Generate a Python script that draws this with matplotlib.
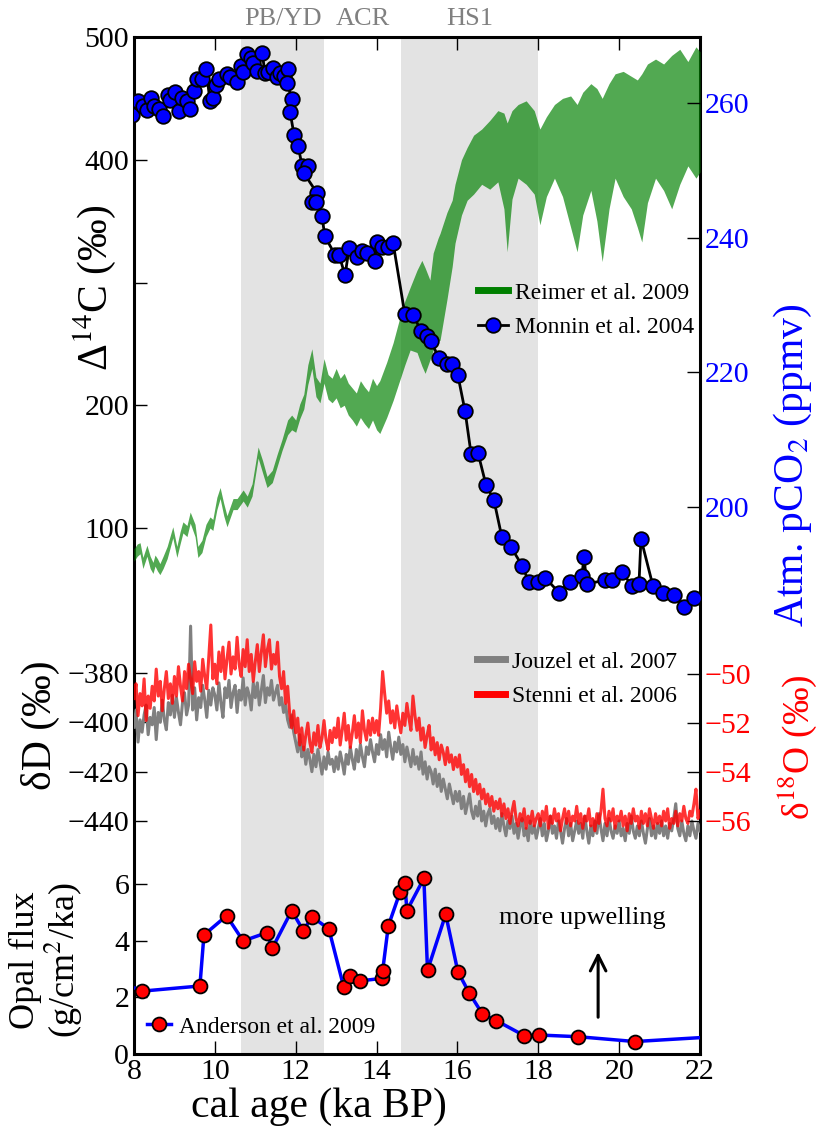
import numpy as np
import matplotlib
matplotlib.use("Agg")
import matplotlib.pyplot as plt
from matplotlib.lines import Line2D

plt.rcParams['font.family'] = ['Liberation Serif', 'DejaVu Serif']
plt.rcParams['mathtext.fontset'] = 'stix'

# ---------------- data ----------------
# IntCal09 atmospheric D14C envelope (Reimer et al. 2009)
c14_age = [8.00, 8.08, 8.15, 8.22, 8.32, 8.40, 8.47, 8.52, 8.58, 8.64, 8.72, 8.82,
           8.96, 9.06, 9.14, 9.21, 9.31, 9.39, 9.51, 9.58, 9.68, 9.78, 9.88, 9.95,
           10.05, 10.13, 10.22, 10.30, 10.45, 10.55, 10.70, 10.80, 10.92, 11.07,
           11.18, 11.29, 11.42, 11.54, 11.66,
           11.8, 11.9, 12.0, 12.1, 12.2, 12.3, 12.4, 12.5, 12.6, 12.7, 12.8, 12.9,
           13.0, 13.1, 13.2, 13.3, 13.4, 13.5, 13.6, 13.7, 13.8, 13.9, 14.0,
           14.08, 14.25, 14.41, 14.58, 14.70, 14.83, 15.0, 15.12, 15.2, 15.32, 15.40,
           15.52, 15.57, 15.74, 15.87, 15.94, 16.1, 16.24,
           16.4, 16.6, 16.8, 17.0, 17.15, 17.23, 17.35, 17.5, 17.7, 17.9, 18.04,
           18.2, 18.4, 18.6, 18.8, 18.96, 19.1, 19.3, 19.45, 19.58, 19.75, 19.9,
           20.1, 20.3, 20.45, 20.56, 20.7, 20.9, 21.1, 21.3, 21.5, 21.7, 21.9, 22.0]
c14_lo = [73, 77, 79, 67, 77, 67, 63, 69, 65, 62, 67, 75, 92, 76, 87, 96, 93, 104,
          93, 76, 80, 93, 100, 98, 115, 124, 110, 101, 115, 115, 122, 117, 126, 157,
          145, 133, 137, 150, 163,
          176, 180, 178, 189, 197, 217, 230, 207, 202, 218, 205, 202, 206, 198, 200,
          192, 188, 183, 190, 185, 181, 188, 180,
          177, 190, 204, 221, 233, 245, 243, 232, 226, 237, 245, 252, 253, 286, 313,
          332, 355, 367,
          372, 380, 376, 382, 360, 325, 368, 385, 380, 372, 347, 370, 385, 370, 345,
          325, 355, 375, 350, 317, 360, 385, 370, 360, 345, 333, 365, 385, 375, 360,
          380, 395, 385, 390]
c14_hi = [83, 87, 88, 76, 86, 77, 72, 78, 75, 71, 77, 85, 101, 85, 97, 105, 102, 113,
          103, 85, 90, 103, 109, 107, 125, 133, 120, 110, 124, 124, 131, 126, 136,
          166, 155, 142, 147, 160, 172,
          188, 192, 188, 201, 209, 233, 246, 223, 218, 238, 225, 222, 230, 222, 226,
          218, 214, 210, 220, 215, 211, 222, 216,
          220, 235, 251, 272, 285, 296, 310, 318, 312, 302, 324, 336, 340, 357, 367,
          380, 400, 410,
          420, 425, 432, 440, 438, 430, 440, 445, 448, 440, 425, 435, 445, 450, 452,
          445, 455, 462, 458, 450, 462, 470, 472, 468, 465, 470, 478, 482, 478, 485,
          490, 480, 492, 488]
c14_ticks = [100, 200, 300, 400, 500]
c14_ticklabels = ['100', '200', '', '400', '500']

# EDC atmospheric CO2 (Monnin et al. 2004)
co2_age = [7.95, 8.10, 8.22, 8.32, 8.42, 8.49, 8.62, 8.72, 8.84, 8.89, 9.01, 9.11,
           9.19, 9.31, 9.39, 9.48, 9.56, 9.68, 9.78, 9.88, 9.95, 10.03, 10.10, 10.30,
           10.37, 10.55, 10.65, 10.70, 10.79, 10.89, 10.94, 11.04, 11.17, 11.24,
           11.31, 11.44, 11.54, 11.61, 11.71, 11.81, 11.78, 11.91, 11.86, 11.96,
           12.06, 12.16, 12.30, 12.20, 12.53, 12.40, 12.50, 12.65, 12.72, 12.97,
           13.07, 13.22, 13.32, 13.52, 13.64, 13.76, 13.96, 14.01, 14.13, 14.28,
           14.41, 14.70, 14.90, 15.10, 15.25, 15.35, 15.54, 15.74, 15.87, 16.01,
           16.19, 16.34, 16.51, 16.71, 16.90, 17.10, 17.32, 17.60, 17.77, 17.99,
           18.17, 18.51, 18.78, 19.08, 19.13, 19.20, 19.65, 19.82, 20.07, 20.32,
           20.49, 20.54, 20.84, 21.08, 21.36, 21.60, 21.85]
co2_ppmv = [258.2, 260.3, 259.6, 259.0, 260.7, 259.6, 259.1, 258.1, 261.2, 260.4,
            261.6, 258.8, 260.7, 260.3, 259.1, 261.8, 263.6, 263.6, 265.1, 260.3,
            260.7, 262.7, 263.6, 264.3, 263.9, 263.1, 265.5, 264.6, 267.3, 266.7,
            265.9, 264.8, 267.4, 264.5, 264.6, 265.2, 263.9, 264.5, 264.0, 265.1,
            263.0, 260.6, 258.7, 255.2, 253.6, 250.6, 250.6, 249.6, 246.6, 245.3,
            245.3, 243.2, 240.2, 237.5, 237.5, 234.4, 238.4, 237.2, 238.0, 237.7,
            236.5, 239.3, 238.6, 238.6, 239.2, 228.6, 228.5, 226.2, 225.4, 224.6,
            222.1, 221.2, 221.2, 219.6, 214.2, 207.8, 208.0, 203.2, 201.1, 195.5,
            194.1, 191.3, 188.8, 188.8, 189.5, 187.3, 188.9, 189.8, 192.6, 188.6,
            189.1, 189.1, 190.3, 188.3, 188.5, 195.3, 188.2, 187.3, 187.0, 185.1,
            186.5]

# EDC deuterium (Jouzel et al. 2007) and TALDICE d18O (Stenni et al. 2006),
# sampled every 50 years from 8 to 22 ka
iso_age = np.round(np.arange(8.0, 22.001, 0.05), 2)
dD = [
    -402, -395, -408, -399, -404, -397, -393, -405, -398, -401,
    -394, -407, -396, -400, -391, -399, -403, -392, -397, -389,   # 8 ka
    -398, -390, -396, -401, -392, -388, -397, -393, -361, -395,
    -386, -399, -390, -394, -385, -391, -398, -387, -393, -386,   # 9 ka
    -389, -395, -384, -392, -398, -386, -390, -383, -394, -388,
    -385, -396, -387, -391, -382, -393, -386, -389, -395, -384,   # 10 ka
    -390, -384, -393, -387, -381, -392, -386, -389, -383, -391,
    -388, -385, -393, -390, -396, -393, -399, -402, -397, -404,   # 11 ka
    -408, -412, -405, -414, -410, -417, -411, -415, -420, -413,
    -418, -411, -416, -421, -414, -419, -412, -417, -415, -420,   # 12 ka
    -414, -419, -412, -416, -421, -413, -417, -410, -415, -419,
    -411, -416, -409, -414, -418, -410, -413, -407, -412, -416,   # 13 ka
    -409, -413, -405, -411, -407, -414, -404, -410, -415, -408,
    -412, -406, -413, -409, -416, -410, -414, -418, -411, -417,   # 14 ka
    -414, -419, -412, -421, -416, -423, -418, -420, -425, -419,
    -426, -421, -428, -423, -427, -431, -425, -429, -433, -428,   # 15 ka
    -432, -428, -435, -430, -437, -433, -429, -436, -439, -434,
    -438, -432, -440, -436, -442, -437, -435, -441, -438, -443,   # 16 ka
    -439, -444, -437, -442, -446, -440, -443, -438, -445, -441,
    -447, -442, -439, -446, -443, -448, -440, -445, -442, -447,   # 17 ka
    -443, -439, -446, -441, -448, -444, -438, -445, -442, -447,
    -440, -444, -449, -443, -439, -446, -441, -448, -444, -440,   # 18 ka
    -445, -441, -447, -438, -444, -449, -442, -446, -440, -445,
    -437, -443, -448, -441, -446, -439, -444, -447, -442, -445,   # 19 ka
    -440, -446, -443, -448, -441, -445, -438, -444, -447, -442,
    -446, -440, -445, -449, -443, -439, -446, -442, -447, -441,   # 20 ka
    -445, -440, -446, -442, -447, -441, -444, -439, -433, -443,
    -446, -440, -445, -448, -442, -446, -440, -444, -447, -441,   # 21 ka
    -444]
d18O = [
    -51.0, -50.4, -51.7, -50.8, -51.3, -50.2, -51.9, -50.9, -51.4, -50.5,
    -51.1, -49.8, -50.9, -50.3, -51.5, -50.6, -49.9, -51.0, -50.4, -51.2,   # 8 ka
    -50.1, -50.9, -49.7, -50.5, -51.1, -49.9, -50.6, -49.6, -50.2, -50.8,
    -49.5, -50.3, -49.9, -50.7, -49.4, -50.1, -50.6, -49.3, -48.0, -50.2,   # 9 ka
    -49.6, -50.4, -49.1, -49.9, -48.9, -50.2, -49.4, -48.7, -50.0, -49.3,
    -49.8, -48.5, -49.6, -50.1, -49.0, -49.7, -48.6, -49.9, -49.2, -50.3,   # 10 ka
    -49.5, -48.8, -49.9, -49.1, -48.4, -49.7, -49.0, -48.6, -49.8, -49.2,
    -49.6, -48.7, -50.1, -50.6, -49.9, -51.2, -50.5, -51.6, -52.2, -51.5,   # 11 ka
    -52.4, -51.8, -52.9, -52.2, -53.1, -52.5, -52.0, -52.8, -53.2, -52.4,
    -52.9, -52.1, -53.0, -52.6, -51.9, -52.7, -53.1, -52.3, -52.8, -52.2,   # 12 ka
    -52.6, -51.8, -52.9, -52.3, -51.6, -52.7, -52.1, -53.0, -52.4, -51.7,
    -52.6, -52.0, -52.8, -51.5, -52.3, -52.7, -51.9, -52.5, -51.8, -52.4,   # 13 ka
    -51.9, -52.5, -51.4, -49.9, -50.8, -51.6, -51.1, -52.0, -51.5, -52.2,
    -51.3, -51.9, -52.4, -51.6, -52.1, -51.2, -51.8, -52.3, -50.9, -51.7,   # 14 ka
    -52.3, -51.8, -52.7, -52.2, -53.0, -52.5, -52.1, -53.1, -52.6, -53.3,
    -52.8, -53.5, -52.9, -53.2, -53.7, -53.0, -53.6, -53.3, -53.9, -53.4,   # 15 ka
    -53.8, -53.3, -54.1, -53.7, -54.4, -53.9, -54.6, -54.1, -54.8, -54.3,
    -54.9, -54.5, -55.1, -54.7, -55.3, -54.9, -55.4, -55.0, -55.6, -55.2,   # 16 ka
    -55.5, -55.1, -55.8, -55.3, -55.9, -55.5, -56.1, -55.6, -55.2, -55.9,
    -56.2, -55.7, -56.0, -55.5, -56.3, -55.8, -56.1, -55.6, -56.2, -55.9,   # 17 ka
    -55.7, -56.2, -55.6, -56.0, -55.4, -56.3, -55.8, -56.1, -55.5, -56.0,
    -55.7, -56.4, -55.9, -55.5, -56.1, -55.6, -56.2, -55.8, -56.0, -55.4,   # 18 ka
    -56.1, -55.7, -56.3, -55.8, -56.0, -55.5, -56.2, -55.9, -56.4, -55.7,
    -56.1, -55.6, -54.7, -55.9, -56.2, -55.6, -56.0, -55.5, -56.3, -55.8,   # 19 ka
    -56.0, -55.6, -56.2, -55.8, -56.4, -55.7, -56.1, -55.5, -56.0, -55.8,
    -56.3, -55.6, -56.1, -55.7, -56.2, -55.5, -55.9, -56.3, -55.7, -56.1,   # 20 ka
    -55.8, -56.2, -55.6, -56.0, -55.5, -56.3, -55.9, -56.1, -55.6, -56.2,
    -55.7, -56.0, -55.4, -55.9, -56.1, -55.6, -55.8, -55.3, -54.7, -55.9,   # 21 ka
    -55.6]

# Opal flux, Southern Ocean (Anderson et al. 2009)
opal_age = [7.80, 8.21, 9.63, 9.73, 10.29, 10.70, 11.28, 11.42, 11.90, 12.19, 12.40,
            12.82, 13.19, 13.34, 13.59, 14.14, 14.15, 14.29, 14.58, 14.70, 14.75,
            15.17, 15.26, 15.71, 16.01, 16.29, 16.62, 16.96, 17.65, 18.02, 18.99,
            20.39, 22.50]
opal_flux = [2.45, 2.22, 2.40, 4.20, 4.88, 3.99, 4.28, 3.73, 5.06, 4.35, 4.85, 4.41,
             2.35, 2.76, 2.58, 2.67, 2.93, 4.52, 5.71, 6.03, 5.06, 6.20, 2.95, 4.93,
             2.91, 2.16, 1.41, 1.18, 0.65, 0.67, 0.61, 0.44, 0.62]

# Climate intervals (ka BP)
periods = [(10.65, 12.7), (14.6, 18.0)]
period_names = ['PB/YD', 'ACR', 'HS1']
period_pos = [11.68, 13.65, 16.3]

# ---------------- layout helpers ----------------
W, H = 819, 1135
fig = plt.figure(figsize=(W / 100, H / 100), dpi=100)


def rect(l, t, r, b):
    return [l / W, 1 - b / H, (r - l) / W, (b - t) / H]


def lim(top, bot, v1, p1, v2, p2):
    s = (v2 - v1) / (p2 - p1)
    return (v1 + (bot - p1) * s, v1 + (top - p1) * s)


def anchor(x, y):
    return (x / W, 1 - y / H)


L, R, T, B = 134, 700, 37, 1054
TICK = dict(direction='in', length=9.5, width=1.0, labelsize=21.5)
LEG = dict(frameon=False, fontsize=17, loc='upper left', borderpad=0,
           borderaxespad=0, bbox_transform=fig.transFigure)

host = fig.add_axes(rect(L, T, R, B))
host.set_xlim(8, 22)
host.set_ylim(0, 1)
host.set_yticks([])
host.set_xticks(np.arange(8, 23, 2))
host.tick_params(axis='x', top=True, bottom=True, **TICK)
for sp in host.spines.values():
    sp.set_linewidth(2.2)
for a, b in periods:
    host.axvspan(a, b, color='#e3e3e3', lw=0, zorder=0)
for name, pos in zip(period_names, period_pos):
    host.text(pos, 1.0 + 18 / (B - T), name, ha='center', va='center',
              fontsize=19, color='#808080', transform=host.get_xaxis_transform())


def panel(top, bot):
    ax = fig.add_axes(rect(L, top, R, bot))
    ax.patch.set_visible(False)
    for sp in ax.spines.values():
        sp.set_visible(False)
    ax.set_xlim(8, 22)
    ax.set_xticks([])
    ax.tick_params(axis='y', **TICK)
    return ax


# ---------------- top: D14C and CO2 ----------------
ax1 = panel(37, 640)
ax1.set_ylim(*lim(37, 640, 500, 37, 100, 528))
ax1.set_yticks(c14_ticks)
ax1.set_yticklabels(c14_ticklabels)
ax1.fill_between(c14_age, c14_lo, c14_hi, color='green', alpha=0.68, lw=0)

ax1r = panel(37, 640)
ax1r.yaxis.tick_right()
ax1r.set_ylim(*lim(37, 640, 260, 103, 200, 507))
ax1r.set_yticks([200, 220, 240, 260])
ax1r.tick_params(axis='y', labelcolor='blue', right=True, left=False)
ax1r.plot(co2_age, co2_ppmv, '-o', color='black', lw=2.0, ms=10.5,
          mfc='blue', mec='black', mew=1.3)

h1 = [Line2D([], [], color='green', lw=5),
      Line2D([], [], color='black', lw=2.0, marker='o', ms=10.5, mfc='blue',
             mec='black', mew=1.3)]
ax1r.legend(h1, ['Reimer et al. 2009', 'Monnin et al. 2004'],
            bbox_to_anchor=anchor(478, 282), handlelength=1.25,
            handletextpad=0.3, labelspacing=0.55, **LEG)

# ---------------- middle: dD and d18O ----------------
ax2 = panel(605, 855)
ax2.set_ylim(*lim(605, 855, -380, 673, -440, 821))
ax2.set_yticks([-440, -420, -400, -380])
ax2.plot(iso_age, dD, color='gray', lw=2.2)

ax2r = panel(605, 855)
ax2r.yaxis.tick_right()
ax2r.set_ylim(*lim(605, 855, -50, 674, -56, 821))
ax2r.set_yticks([-56, -54, -52, -50])
ax2r.tick_params(axis='y', labelcolor='red', right=True, left=False)
ax2r.plot(iso_age, d18O, color='red', lw=2.2, alpha=0.8)

h2 = [Line2D([], [], color='gray', lw=5), Line2D([], [], color='red', lw=5)]
ax2r.legend(h2, ['Jouzel et al. 2007', 'Stenni et al. 2006'],
            bbox_to_anchor=anchor(477, 651), handlelength=1.2,
            handletextpad=0.3, labelspacing=0.55, **LEG)

# ---------------- bottom: opal flux ----------------
ax3 = panel(860, 1054)
ax3.set_ylim(*lim(860, 1054, 0, 1054, 6, 884))
ax3.set_yticks([0, 2, 4, 6])
ax3.plot(opal_age, opal_flux, '-o', color='blue', lw=2.5, ms=10, mfc='red',
         mec='black', mew=1.3)
ax3.text(19.1, 4.8, 'more upwelling', fontsize=19, ha='center', va='center')
ax3.annotate('', xy=(19.48, 3.7), xytext=(19.48, 1.2),
             arrowprops=dict(arrowstyle='->', lw=2.2, color='black',
                             mutation_scale=28))
h3 = [Line2D([], [], color='blue', lw=2.5, marker='o', ms=10, mfc='red',
             mec='black', mew=1.3)]
ax3.legend(h3, ['Anderson et al. 2009'], bbox_to_anchor=anchor(147, 1016),
           handlelength=1.0, handletextpad=0.35, **LEG)

# ---------------- axis labels ----------------
def ftext(x, y, s, rotation=90, **kw):
    fig.text(x / W, 1 - y / H, s, ha='center', va='center', rotation=rotation,
             **kw)


ftext(319, 1107, 'cal age (ka BP)', rotation=0, fontsize=30)
ftext(95, 288, 'Δ$^{14}$C (‰)', fontsize=30)
ftext(793, 465, 'Atm. pCO$_2$ (ppmv)', fontsize=30, color='blue')
ftext(40, 725, 'δD (‰)', fontsize=30)
ftext(797, 747, 'δ$^{18}$O (‰)', fontsize=27, color='red')
ftext(47, 960, 'Opal flux\n(g/cm$^2$/ka)', fontsize=26, linespacing=1.0)

fig.savefig('out.png', dpi=100)
